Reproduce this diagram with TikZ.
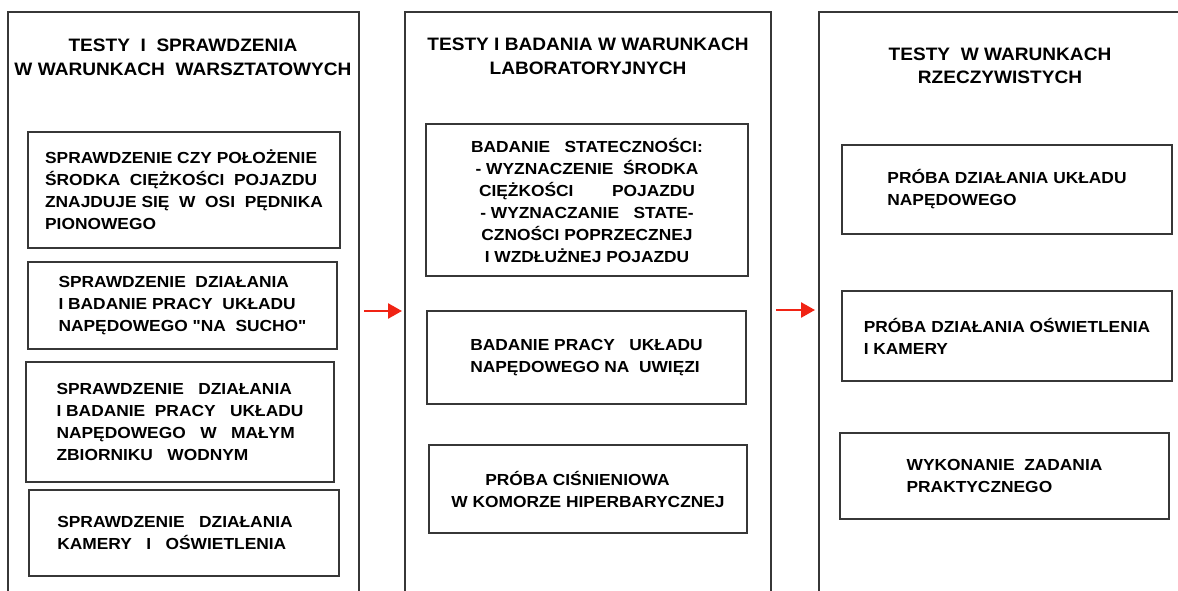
\documentclass[tikz,border=0pt]{standalone}
\usepackage{fontspec}
\setmainfont{Liberation Sans}
\newfontfamily\boxfont{Liberation Sans}[FakeStretch=1.085]
\newfontfamily\titlefont{Liberation Sans}[FakeStretch=1.06]
\usetikzlibrary{arrows.meta}
\definecolor{lc}{RGB}{55,55,55}
\definecolor{arr}{RGB}{240,35,20}
\tikzset{
  colframe/.style={draw=lc, line width=1.3pt},
  inbox/.style={draw=lc, line width=1.2pt, inner sep=0pt, align=left,
    font=\boxfont\fontsize{16}{22}\selectfont\bfseries},
  title/.style={inner sep=0pt, align=center,
    font=\titlefont\fontsize{18}{23.5}\selectfont\bfseries},
  flow/.style={draw=arr, line width=2.6pt, -{Triangle[length=14pt,width=15pt]}}
}
\begin{document}
\begin{tikzpicture}[x=1pt,y=-1pt]
\useasboundingbox (0,0) rectangle (1178,591);
% column frames (open at bottom)
\draw[colframe] (8,591) -- (8,12) -- (359,12) -- (359,591);
\draw[colframe] (405,591) -- (405,12) -- (771,12) -- (771,591);
\draw[colframe] (819,591) -- (819,12) -- (1178,12);
% titles
\node[title] (t1) at (183,57.5) {TESTY~~I~~SPRAWDZENIA\\W WARUNKACH~~WARSZTATOWYCH};
\node[title] (t2) at (588,56.5) {TESTY I BADANIA W WARUNKACH\\LABORATORYJNYCH};
\node[title] (t3) at (1000,66) {TESTY~~W WARUNKACH\\RZECZYWISTYCH};
% left column
\node[inbox, minimum width=312pt, minimum height=116pt] (l1) at (184,190)
  {SPRAWDZENIE CZY POŁOŻENIE\\ŚRODKA~~CIĘŻKOŚCI~~POJAZDU\\ZNAJDUJE SIĘ~~W~~OSI~~PĘDNIKA\\PIONOWEGO};
\node[inbox, minimum width=309pt, minimum height=87pt] (l2) at (182.5,305.5)
  {SPRAWDZENIE~~DZIAŁANIA\\I BADANIE PRACY~~UKŁADU\\NAPĘDOWEGO {\char34}NA~~SUCHO{\char34}};
\node[inbox, minimum width=308pt, minimum height=120pt] (l3) at (180,422)
  {SPRAWDZENIE~~~DZIAŁANIA\\I BADANIE~~PRACY~~~UKŁADU\\NAPĘDOWEGO~~~W~~~MAŁYM\\ZBIORNIKU~~~WODNYM};
\node[inbox, minimum width=310pt, minimum height=86pt] (l4) at (184,533)
  {SPRAWDZENIE~~~DZIAŁANIA\hspace*{18pt}\\KAMERY~~~I~~~OŚWIETLENIA};
% middle column
\node[inbox, align=center, minimum width=322pt, minimum height=152pt] (m1) at (587,200)
  {BADANIE~~~STATECZNOŚCI:\\- WYZNACZENIE~~ŚRODKA\\\hbox to 216pt{CIĘŻKOŚCI\hfill POJAZDU}\\- WYZNACZANIE~~~STATE-\\CZNOŚCI POPRZECZNEJ\\I WZDŁUŻNEJ POJAZDU};
\node[inbox, minimum width=319pt, minimum height=93pt] (m2) at (586.5,357.5)
  {BADANIE PRACY~~~UKŁADU\\NAPĘDOWEGO NA~~UWIĘZI};
\node[inbox, minimum width=318pt, minimum height=88pt] (m3) at (588,489)
  {\hspace*{34pt}PRÓBA CIŚNIENIOWA\\W KOMORZE HIPERBARYCZNEJ};
% right column
\node[inbox, minimum width=330pt, minimum height=89pt] (r1) at (1007,189.5)
  {PRÓBA DZIAŁANIA UKŁADU\\NAPĘDOWEGO};
\node[inbox, minimum width=330pt, minimum height=90pt] (r2) at (1007,336)
  {PRÓBA DZIAŁANIA OŚWIETLENIA\\I KAMERY};
\node[inbox, minimum width=329pt, minimum height=86pt] (r3) at (1004.5,476)
  {WYKONANIE~~ZADANIA\\PRAKTYCZNEGO};
% arrows between columns
\coordinate (a1s) at (364,311);
\coordinate (a1e) at (402,311);
\coordinate (a2s) at (776,310);
\coordinate (a2e) at (815,310);
\draw[flow] (a1s) -- (a1e);
\draw[flow] (a2s) -- (a2e);
\end{tikzpicture}
\end{document}
